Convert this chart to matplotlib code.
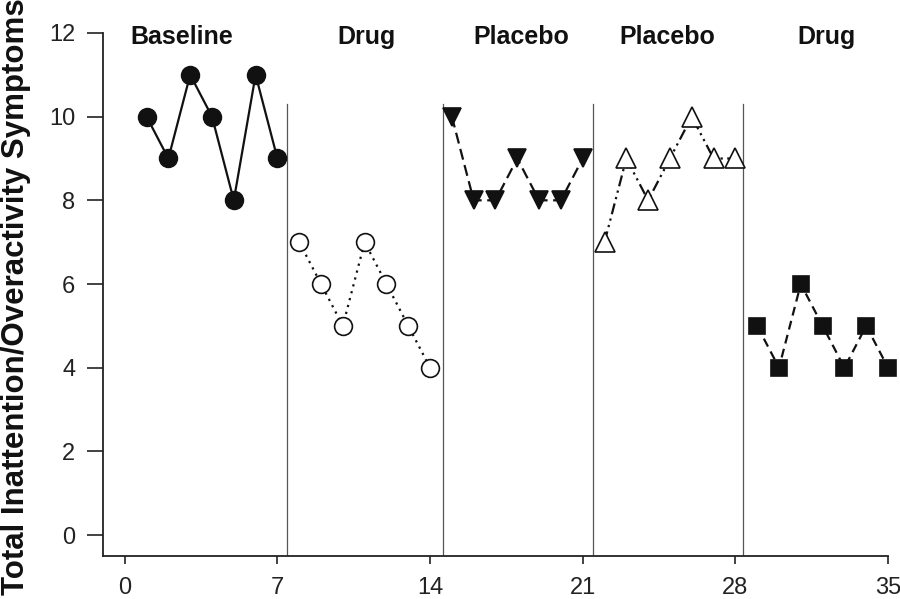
import matplotlib
matplotlib.use("Agg")
import matplotlib.pyplot as plt

plt.rcParams['font.family'] = ['Liberation Sans', 'DejaVu Sans']

phases = ["Baseline", "Drug", "Placebo", "Placebo", "Drug"]
sessions = [
    [1, 2, 3, 4, 5, 6, 7],
    [8, 9, 10, 11, 12, 13, 14],
    [15, 16, 17, 18, 19, 20, 21],
    [22, 23, 24, 25, 26, 27, 28],
    [29, 30, 31, 32, 33, 34, 35],
]
scores = [
    [10, 9, 11, 10, 8, 11, 9],
    [7, 6, 5, 7, 6, 5, 4],
    [10, 8, 8, 9, 8, 8, 9],
    [7, 9, 8, 9, 10, 9, 9],
    [5, 4, 6, 5, 4, 5, 4],
]
phase_changes = [7.45, 14.6, 21.45, 28.35]
label_x = [2.6, 11.1, 18.2, 24.9, 32.2]
xticks = [0, 7, 14, 21, 28, 35]
yticks = [0, 2, 4, 6, 8, 10, 12]

styles = [
    dict(marker='o', mfc='#111111', ls='-', ms=12.8),
    dict(marker='o', mfc='white', ls=(0, (1, 2.2)), ms=12.8),
    dict(marker='v', mfc='#111111', ls=(0, (5, 2.5)), ms=13),
    dict(marker='^', mfc='white', ls=(0, (5, 2, 1, 2, 1, 2)), ms=14),
    dict(marker='s', mfc='#111111', ls=(0, (4, 2.5)), ms=11.8),
]

fig = plt.figure(figsize=(9, 5.99), dpi=100)
ax = fig.add_axes([0.1144, 0.0718, 0.8723, 0.8732])

for xs, ys, st in zip(sessions, scores, styles):
    ax.plot(xs, ys, color='#111111', lw=1.6, ls=st['ls'], marker=st['marker'],
            ms=st['ms'], mfc=st['mfc'], mec='#111111', mew=1.2, clip_on=False, zorder=3)

for xc in phase_changes:
    ax.plot([xc, xc], [-0.5, 10.3], color='#555555', lw=0.9, zorder=1)

for name, lx in zip(phases, label_x):
    ax.text(lx, 11.74, name, ha='center', va='baseline', fontsize=18, fontweight='bold', color='#111111')

ax.set_xlim(-1, 35)
ax.set_ylim(-0.5, 12)
ax.set_xticks(xticks)
ax.set_yticks(yticks)
ax.spines['top'].set_visible(False)
ax.spines['right'].set_visible(False)
ax.spines['left'].set_bounds(-0.5, 12)
ax.spines['bottom'].set_bounds(-1, 35)
for s in ['left', 'bottom']:
    ax.spines[s].set_linewidth(1.3)
    ax.spines[s].set_color('#222222')
ax.tick_params(direction='out', width=1.2, labelsize=17, colors='#222222')
ax.tick_params(axis='y', length=11.5, pad=8.5)
ax.tick_params(axis='x', length=5.8, pad=9)

fig.text(0.001, 0.504, "Total Inattention/Overactivity Symptoms", rotation=90,
         ha='left', va='center', fontsize=22.5, fontweight='bold', color='#111111')

fig.savefig("out.png", dpi=100)
